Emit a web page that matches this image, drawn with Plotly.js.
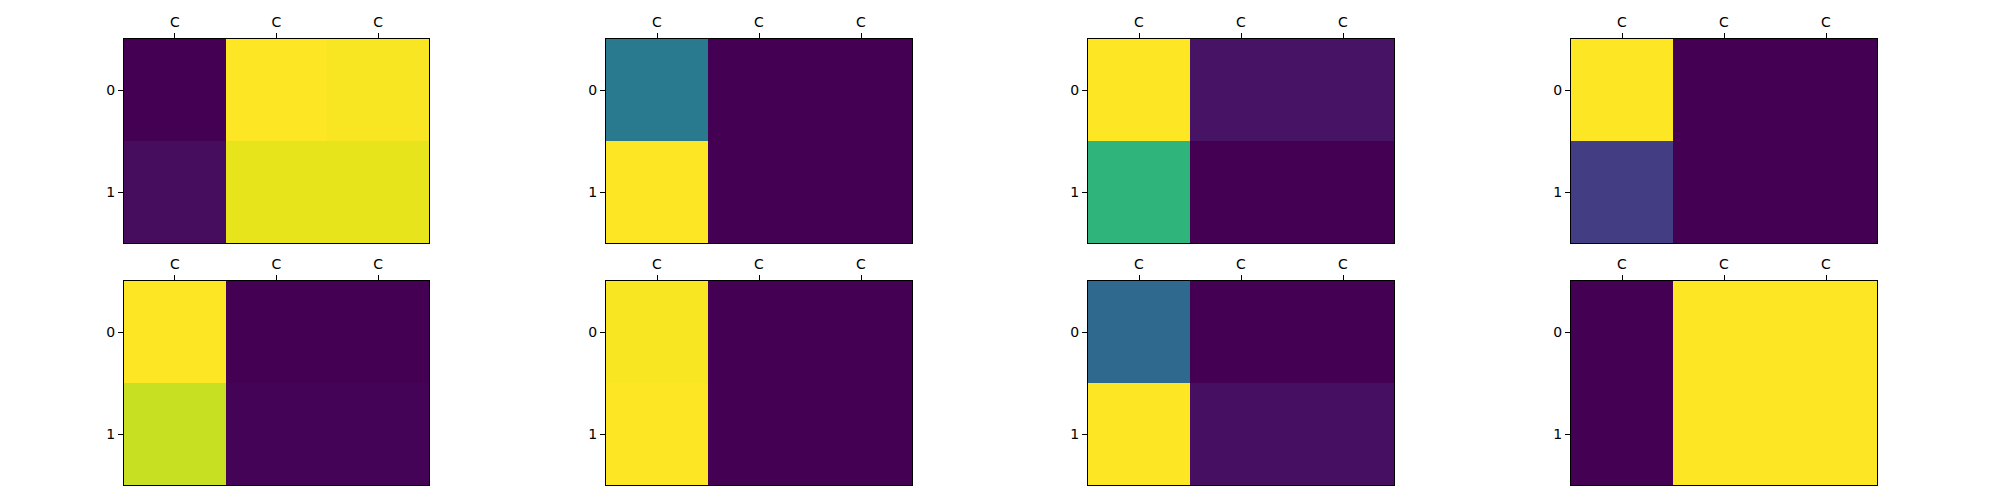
<!DOCTYPE html>
<html>
<head>
<meta charset="utf-8">
<script src="https://cdn.plot.ly/plotly-3.0.1.min.js"></script>
<style>html,body{margin:0;padding:0;background:#fff;}#chart{width:2000px;height:500px;}</style>
</head>
<body>
<div id="chart"></div>
<script>
// Column / row tick labels
const xTickLabels = ['C', 'C', 'C'];
const yTickLabels = ['0', '1'];

// Values of each 2x3 panel (rows 0..1, columns 0..2)
const panel1 = [[0.00, 1.00, 0.993], [0.03, 0.965, 0.965]];
const panel2 = [[0.41, 0.00, 0.00], [1.00, 0.00, 0.00]];
const panel3 = [[1.00, 0.05, 0.05], [0.65, 0.00, 0.00]];
const panel4 = [[1.00, 0.00, 0.00], [0.18, 0.00, 0.00]];
const panel5 = [[1.00, 0.00, 0.00], [0.915, 0.005, 0.005]];
const panel6 = [[0.993, 0.00, 0.00], [1.00, 0.00, 0.00]];
const panel7 = [[0.34, 0.00, 0.00], [1.00, 0.04, 0.04]];
const panel8 = [[0.00, 1.00, 1.00], [0.00, 1.00, 1.00]];

const panels = [panel1, panel2, panel3, panel4, panel5, panel6, panel7, panel8];

const viridisHex = ['#440154','#471365','#482475','#463480','#414487','#3b528b','#355f8d','#2f6c8e','#2a788e','#25848e','#21918c','#1e9c89','#22a884','#2fb47c','#44bf70','#5ec962','#7ad151','#9bd93c','#bddf26','#dfe318','#fde725'];
const viridis = viridisHex.map((c, i) => [i / (viridisHex.length - 1), c]);

const W = 2000, H = 500;
const colPx = [[124, 429], [606, 912], [1088, 1394], [1571, 1877]];
const rowPx = [[39, 243], [281, 485]];

const traces = [];
const layout = {
  width: W, height: H,
  margin: {l: 0, r: 0, t: 0, b: 0},
  paper_bgcolor: '#ffffff',
  plot_bgcolor: '#ffffff',
  showlegend: false,
  font: {family: 'DejaVu Sans, sans-serif', size: 14, color: '#000000'}
};

panels.forEach((z, k) => {
  const r = Math.floor(k / 4), c = k % 4;
  const n = k + 1;
  const xa = n === 1 ? 'x' : 'x' + n;
  const ya = n === 1 ? 'y' : 'y' + n;
  const zmin = Math.min(...z.flat()), zmax = Math.max(...z.flat());
  traces.push({
    type: 'heatmap',
    z: z,
    x: [0, 1, 2],
    y: [0, 1],
    xaxis: xa, yaxis: ya,
    colorscale: viridis,
    zmin: zmin, zmax: zmax,
    showscale: false,
    xgap: 0, ygap: 0,
    hoverinfo: 'z'
  });
  const xKey = n === 1 ? 'xaxis' : 'xaxis' + n;
  const yKey = n === 1 ? 'yaxis' : 'yaxis' + n;
  layout[xKey] = {
    domain: [colPx[c][0] / W, colPx[c][1] / W],
    anchor: ya,
    side: 'top',
    range: [-0.5, 2.5],
    tickmode: 'array',
    tickvals: [0, 1, 2],
    ticktext: xTickLabels,
    ticks: 'outside', ticklen: 5, tickwidth: 1, tickcolor: '#000',
    showgrid: false, zeroline: false,
    showline: true, mirror: true, linecolor: '#000', linewidth: 1,
    tickfont: {family: 'DejaVu Sans, sans-serif', size: 14, color: '#000'},
    fixedrange: true
  };
  layout[yKey] = {
    domain: [1 - rowPx[r][1] / H, 1 - rowPx[r][0] / H],
    anchor: xa,
    range: [1.5, -0.5],
    tickmode: 'array',
    tickvals: [0, 1],
    ticktext: yTickLabels,
    ticks: 'outside', ticklen: 5, tickwidth: 1, tickcolor: '#000',
    showgrid: false, zeroline: false,
    showline: true, mirror: true, linecolor: '#000', linewidth: 1,
    tickfont: {family: 'DejaVu Sans, sans-serif', size: 14, color: '#000'},
    fixedrange: true
  };
});

Plotly.newPlot('chart', traces, layout, {displayModeBar: false, staticPlot: true});
</script>
</body>
</html>
